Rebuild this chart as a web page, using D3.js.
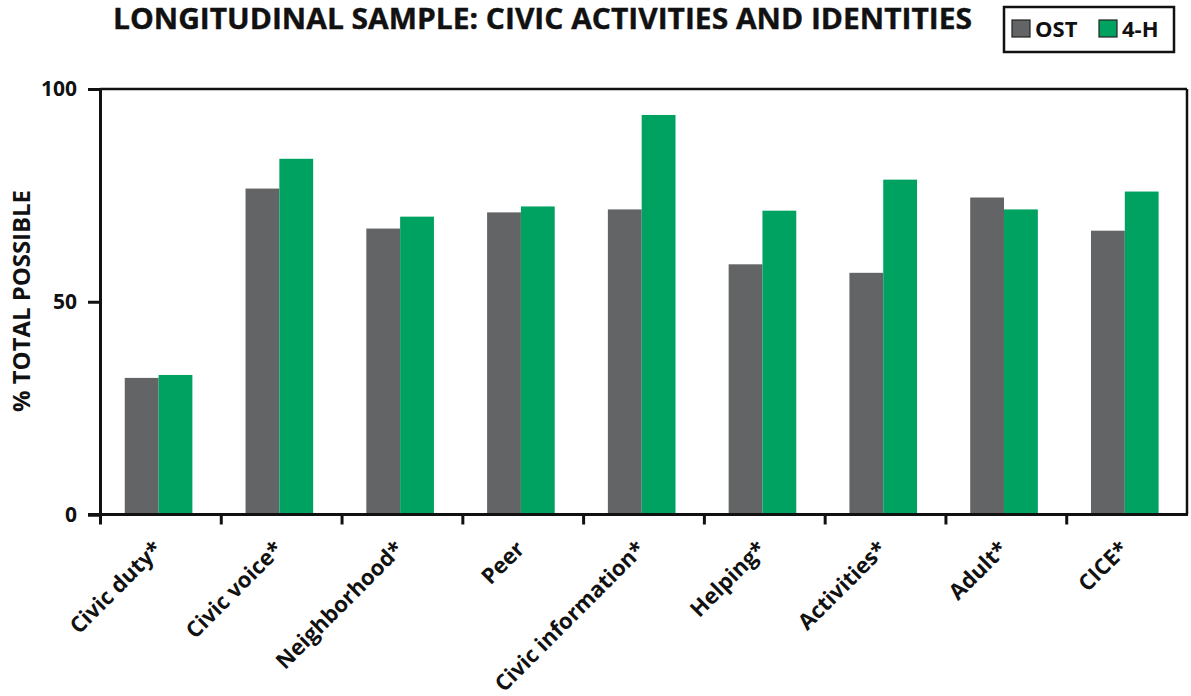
<!DOCTYPE html>
<html><head><meta charset="utf-8">
<script src="https://cdn.jsdelivr.net/npm/d3@7"></script>
<style>
body{margin:0;background:#fff;}
svg{display:block;font-family:"Open Sans",sans-serif;font-weight:700;}
</style></head><body>
<svg id="c" width="1191" height="696"></svg>
<script>
const categories = ["Civic duty*","Civic voice*","Neighborhood*","Peer","Civic information*","Helping*","Activities*","Adult*","CICE*"];
const seriesNames = ["OST","4-H"];
const ostValues = [32.1,76.6,67.2,71.0,71.7,58.8,56.8,74.5,66.7];
const fourHValues = [32.8,83.6,70.0,72.4,93.9,71.4,78.7,71.7,75.9];
const yTicks = [0,50,100];
const colors = ["#636466","#00A261"];

const svg = d3.select("#c");
const L=100, R=1187, T=89, B=514.5;
const x0 = d3.scaleBand().domain(categories).range([L,R]).padding(0);
const bw = x0.bandwidth();
const x1 = d3.scaleBand().domain(seriesNames).range([bw*0.205, bw*0.765]).padding(0);
const y = d3.scaleLinear().domain([0,100]).range([B,T]);
const xb = d3.scaleLinear().domain([0,categories.length]).range([L,R]);

const data = categories.map((c,i)=>({cat:c, vals:[ostValues[i], fourHValues[i]]}));

// bars
const g = svg.append("g");
const groups = g.selectAll("g.grp").data(data).join("g").attr("class","grp")
  .attr("transform",d=>`translate(${x0(d.cat)},0)`);
groups.selectAll("rect").data(d=>d.vals.map((v,j)=>({s:seriesNames[j],v,j})))
  .join("rect")
  .attr("x",d=>x1(d.s)).attr("width",x1.bandwidth())
  .attr("y",d=>y(d.v)).attr("height",d=>B-y(d.v))
  .attr("fill",d=>colors[d.j]);

// frame top & right
svg.append("line").attr("x1",L).attr("x2",R).attr("y1",T).attr("y2",T).attr("stroke","#111").attr("stroke-width",2.5);
svg.append("line").attr("x1",R).attr("x2",R).attr("y1",T).attr("y2",B).attr("stroke","#111").attr("stroke-width",2.5);

// y axis
const ya = svg.append("g").attr("transform",`translate(${L},0)`)
  .call(d3.axisLeft(y).tickValues(yTicks).tickSize(12).tickPadding(11));
ya.select(".domain").attr("stroke","#111").attr("stroke-width",3);
ya.selectAll(".tick line").attr("stroke","#111").attr("stroke-width",3);
ya.selectAll("text").attr("font-size",21).attr("font-family","'Open Sans',sans-serif").attr("font-weight",700).attr("fill","#111");

// x axis boundary ticks
const xa = svg.append("g").attr("transform",`translate(0,${B})`)
  .call(d3.axisBottom(xb).tickValues(d3.range(categories.length)).tickSize(10).tickFormat(""));
xa.select(".domain").remove();
xa.selectAll(".tick line").attr("stroke","#111").attr("stroke-width",3);
svg.append("line").attr("x1",L-12).attr("x2",R+1).attr("y1",B).attr("y2",B).attr("stroke","#111").attr("stroke-width",3);

// x labels
const xl = svg.append("g").attr("transform",`translate(0,${B})`)
  .call(d3.axisBottom(x0).tickSize(0).tickPadding(0));
xl.select(".domain").remove();
xl.selectAll(".tick text")
  .attr("font-size",22).attr("font-family","'Open Sans',sans-serif").attr("font-weight",700).attr("fill","#111")
  .attr("text-anchor","end").attr("dy",null).attr("y",0).attr("x",0)
  .attr("transform","translate(3,36) rotate(-45)");

// y label
svg.append("text").attr("transform","translate(30,301) rotate(-90)")
  .attr("text-anchor","middle").attr("font-size",23).attr("fill","#111")
  .attr("textLength",222).attr("lengthAdjust","spacingAndGlyphs")
  .text("% TOTAL POSSIBLE");

// title
svg.append("text").attr("x",113).attr("y",29).attr("font-size",28.5).attr("fill","#111")
  .attr("stroke","#111").attr("stroke-width",0.4)
  .attr("textLength",859).attr("lengthAdjust","spacingAndGlyphs")
  .text("LONGITUDINAL SAMPLE: CIVIC ACTIVITIES AND IDENTITIES");

// legend
const lg = svg.append("g");
lg.append("rect").attr("x",1004).attr("y",7).attr("width",170).attr("height",45)
  .attr("fill","#fff").attr("stroke","#111").attr("stroke-width",2.5);
const items = [{n:seriesNames[0],c:colors[0],x:1012,tx:1035},{n:seriesNames[1],c:colors[1],x:1099,tx:1122}];
items.forEach(it=>{
  lg.append("rect").attr("x",it.x).attr("y",20).attr("width",18).attr("height",17)
    .attr("fill",it.c).attr("stroke","#222").attr("stroke-width",1.2);
  lg.append("text").attr("x",it.tx).attr("y",37).attr("font-size",22).attr("fill","#111").text(it.n);
});
</script>
</body></html>
